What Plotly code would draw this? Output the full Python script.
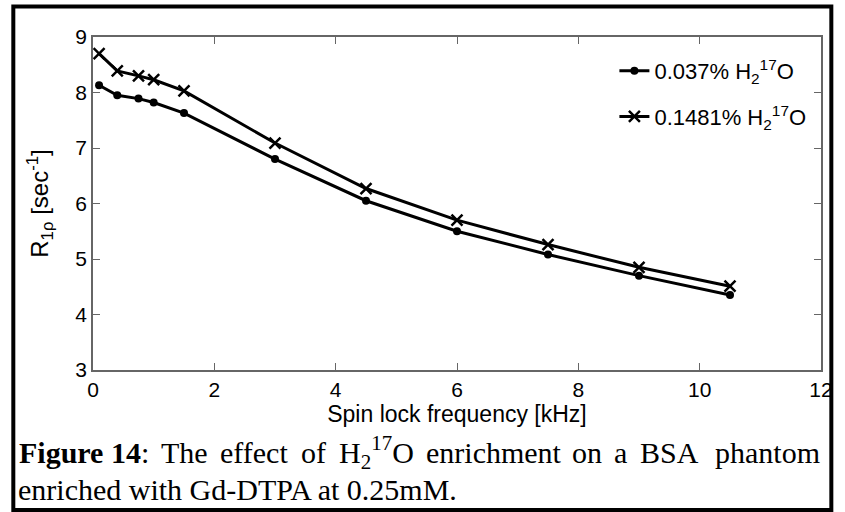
import plotly.graph_objects as go

# Spin lock frequencies [kHz]
freq_khz = [0.1, 0.4, 0.75, 1.0, 1.5, 3.0, 4.5, 6.0, 7.5, 9.0, 10.5]

# R1rho [1/s] for the two H2(17)O enrichment levels
r1rho_low = [8.13, 7.95, 7.89, 7.82, 7.63, 6.80, 6.05, 5.50, 5.08, 4.70, 4.35]
r1rho_high = [8.70, 8.39, 8.30, 8.23, 8.03, 7.09, 6.27, 5.70, 5.26, 4.85, 4.51]

series_names = ["0.037% H<sub>2</sub><sup>17</sup>O", "0.1481% H<sub>2</sub><sup>17</sup>O"]

x_ticks = [0, 2, 4, 6, 8, 10, 12]
y_ticks = [3, 4, 5, 6, 7, 8, 9]

W, H = 845, 512
L, R, T, B = 93, 833, 37, 370  # plot area in pixels


def px(x):
    return (x - L) / (R - L)


def py(y):
    return (B - y) / (B - T)


fig = go.Figure()
fig.add_trace(go.Scatter(
    x=freq_khz, y=r1rho_low, name=series_names[0], mode="lines+markers",
    legendgroup="low",
    line=dict(color="black", width=3),
    marker=dict(symbol="circle", size=8, color="black"),
))
fig.add_trace(go.Scatter(
    x=freq_khz, y=r1rho_high, name=series_names[1], mode="lines+markers",
    legendgroup="high",
    line=dict(color="black", width=3),
    marker=dict(symbol="x-thin", size=11, color="black",
                line=dict(color="black", width=2.5)),
))

sans = "Liberation Sans, Arial"
serif = "Liberation Serif, Times New Roman"

axis_common = dict(
    showgrid=False, zeroline=False, showline=True, linecolor="#666666",
    linewidth=1.5, mirror="ticks", ticks="inside", ticklen=7,
    tickcolor="#666666", tickwidth=1,
    tickfont=dict(family=sans, size=21, color="black"),
)

fig.update_xaxes(
    range=[0, 12], tickvals=x_ticks, ticktext=[str(v) for v in x_ticks],
    title=dict(text="Spin lock frequency [kHz]", standoff=0,
               font=dict(family=sans, size=23, color="black")),
    **axis_common,
)
fig.update_yaxes(
    range=[3, 9], tickvals=y_ticks, ticktext=[str(v) for v in y_ticks],
    title=dict(text="R<sub>1ρ</sub> [sec<sup>-1</sup>]", standoff=20,
               font=dict(family=sans, size=24, color="black")),
    **axis_common,
)

# Caption below the axes; the first line is justified across the full width
caption_font = dict(family=serif, size=30, color="black")
caption_line1 = [
    ("<b>Figure 14</b>:", 16, "left"),
    ("The", 160, "left"),
    ("effect", 220, "left"),
    ("of", 302, "left"),
    ("H<sub>2</sub><sup>17</sup>O", 341, "left"),
    ("enrichment", 429, "left"),
    ("on", 578, "left"),
    ("a", 621, "left"),
    ("BSA", 647, "left"),
    ("phantom", 834, "right"),
]
for text, xpix, anchor in caption_line1:
    fig.add_annotation(
        x=px(xpix), y=py(452), xref="paper", yref="paper",
        xanchor=anchor, yanchor="middle",
        text=text, showarrow=False, font=caption_font,
    )
fig.add_annotation(
    x=px(15), y=py(489), xref="paper", yref="paper", xanchor="left", yanchor="middle",
    text="enriched with Gd-DTPA at 0.25mM.",
    showarrow=False, font=caption_font,
)

# Black frame around the whole figure
fig.add_shape(
    type="rect", xref="paper", yref="paper", layer="above",
    x0=px(12), x1=px(843.5), y0=py(6.5), y1=py(510),
    line=dict(color="black", width=4), fillcolor="rgba(0,0,0,0)",
)

fig.update_layout(
    width=W, height=H,
    margin=dict(l=L, r=W - R, t=T, b=H - B, pad=0),
    paper_bgcolor="white", plot_bgcolor="white",
    showlegend=True,
    legend=dict(
        x=px(623), y=py(50), xanchor="left", yanchor="top",
        bgcolor="rgba(0,0,0,0)", borderwidth=0, itemwidth=30,
        font=dict(family=sans, size=22, color="black"),
        tracegroupgap=14,
    ),
)

fig.write_html("out.html")
